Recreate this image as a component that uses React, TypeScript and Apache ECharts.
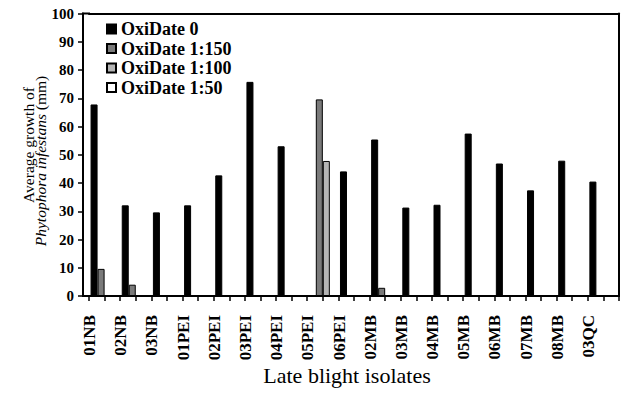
import React, { useEffect, useRef } from "react";
import * as echarts from "echarts";

const categories = ["01NB", "02NB", "03NB", "01PEI", "02PEI", "03PEI", "04PEI", "05PEI", "06PEI", "02MB", "03MB", "04MB", "05MB", "06MB", "07MB", "08MB", "03QC"];
const oxiDate0 = [67.8, 32.1, 29.6, 32.1, 42.7, 75.8, 53.0, null, 44.1, 55.4, 31.3, 32.3, 57.5, 46.9, 37.4, 47.9, 40.5];
const oxiDate150 = [9.6, 4.0, null, null, null, null, null, 69.6, null, 2.9, null, null, null, null, null, null, null];
const oxiDate100 = [null, null, null, null, null, null, null, 47.8, null, null, null, null, null, null, null, null, null];
const oxiDate50 = [null, null, null, null, null, null, null, null, null, null, null, null, null, null, null, null, null];
const seriesNames = ["OxiDate 0", "OxiDate 1:150", "OxiDate 1:100", "OxiDate 1:50"];
const seriesColors = ["#000000", "#7a7a7a", "#b4b4b4", "#ffffff"];
const halfTicks = Array.from({ length: categories.length * 2 }, () => "");

const SERIF = '"Liberation Serif", "DejaVu Serif", serif';

export default function App() {
  const ref = useRef<HTMLDivElement>(null);
  useEffect(() => {
    if (!ref.current) return;
    const chart = echarts.init(ref.current, null, { renderer: "svg" });
    const values = [oxiDate0, oxiDate150, oxiDate100, oxiDate50];
    chart.setOption({
      animation: false,
      backgroundColor: "#ffffff",
      textStyle: { fontFamily: SERIF, color: "#000" },
      grid: { left: 89, right: 3, top: 13.5, bottom: 108, containLabel: false, outerBoundsMode: "none" },
      legend: {
        orient: "vertical",
        left: 106,
        top: 20,
        padding: 0,
        itemWidth: 9,
        itemHeight: 9,
        itemGap: 1.5,
        icon: "rect",
        textStyle: { fontFamily: SERIF, fontSize: 18, fontWeight: "bold", color: "#000", lineHeight: 17 },
        data: seriesNames,
      },
      xAxis: [
        {
          type: "category",
          data: categories,
          position: "bottom",
          axisLine: { show: true, lineStyle: { color: "#000", width: 2 } },
          axisTick: { show: false },
          axisLabel: {
            rotate: 90,
            interval: 0,
            margin: 19,
            fontFamily: SERIF,
            fontSize: 17,
            fontWeight: "bold",
            color: "#000",
            lineHeight: 30,
            formatter: (v: string) => v + "\n ",
          },
          name: "Late blight isolates",
          nameLocation: "middle",
          nameGap: 68,
          nameMoveOverlap: false,
          nameTextStyle: { fontFamily: SERIF, fontSize: 22, color: "#000", padding: [0, 14, 0, 0] },
        },
        {
          type: "category",
          data: halfTicks,
          position: "bottom",
          offset: 0,
          axisLine: { show: true, lineStyle: { color: "#000", width: 2 } },
          axisTick: { show: true, interval: 0, length: 5, lineStyle: { color: "#000", width: 1.5 } },
          axisLabel: { show: false },
        },
        {
          type: "category",
          data: categories,
          position: "top",
          axisLine: { show: true, lineStyle: { color: "#000", width: 2 } },
          axisTick: { show: false },
          axisLabel: { show: false },
        },
      ],
      yAxis: [
        {
          type: "value",
          min: 0,
          max: 100,
          interval: 10,
          offset: 6,
          splitLine: { show: false },
          axisLine: { show: true, lineStyle: { color: "#000", width: 2 } },
          axisTick: { show: true, length: 5, lineStyle: { color: "#000", width: 1.5 } },
          axisLabel: { margin: 9, fontFamily: SERIF, fontSize: 15, fontWeight: "bold", color: "#000" },
          name: "{a| }{n|Average growth of}\n{i|Phytophora infestans}{n| (mm)}{b| }",
          nameLocation: "middle",
          nameRotate: 90,
          nameGap: 36,
          nameMoveOverlap: false,
          nameTextStyle: {
            fontFamily: SERIF,
            fontSize: 15.5,
            color: "#000",
            lineHeight: 12.5,
            rich: {
              n: { fontFamily: SERIF, fontSize: 15.5, color: "#000", lineHeight: 12.5 },
              i: { fontFamily: SERIF, fontSize: 15.5, fontStyle: "italic", color: "#000", lineHeight: 12.5 },
              a: { width: 19.5, fontSize: 15.5, lineHeight: 12.5 },
              b: { width: 12.5, fontSize: 15.5, lineHeight: 12.5 },
            },
          },
        },
        {
          type: "value",
          min: 0,
          max: 100,
          interval: 10,
          position: "right",
          splitLine: { show: false },
          axisLine: { show: true, lineStyle: { color: "#000", width: 2 } },
          axisTick: { show: false },
          axisLabel: { show: false },
        },
      ],
      graphic: [
        { type: "line", shape: { x1: 82, y1: 296, x2: 90, y2: 296 }, style: { stroke: "#000", lineWidth: 2 } },
        { type: "line", shape: { x1: 82, y1: 13.5, x2: 90, y2: 13.5 }, style: { stroke: "#000", lineWidth: 2 } },
      ],
      series: seriesNames.map((name, i) => ({
        name,
        type: "bar",
        xAxisIndex: 0,
        yAxisIndex: 0,
        data: values[i],
        barGap: "0%",
        barCategoryGap: "10%",
        itemStyle: { color: seriesColors[i], borderColor: "#000", borderWidth: 1 },
      })),
    });
    return () => chart.dispose();
  }, []);
  return <div ref={ref} style={{ position: "fixed", left: 0, top: 0, width: 622, height: 404 }} />;
}
